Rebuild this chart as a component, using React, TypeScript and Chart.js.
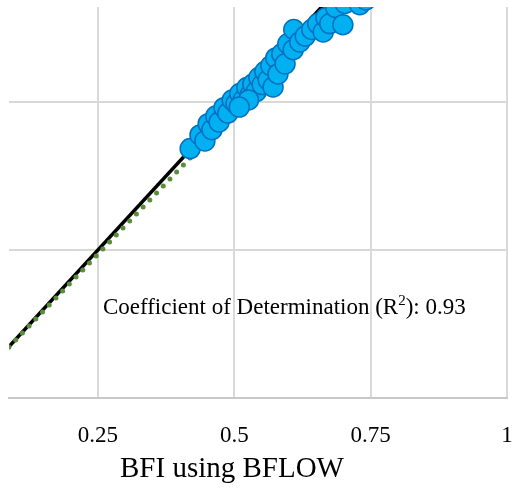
import React, { useEffect, useRef } from "react";
import { Chart, registerables } from "chart.js";

Chart.register(...registerables);

// BFI from BFLOW (x) vs. BFI from the compared method (y)
const bfiBflow = [
  0.419, 0.437, 0.446, 0.452, 0.459, 0.466, 0.472, 0.481, 0.488, 0.496,
  0.503, 0.510, 0.516, 0.523, 0.529, 0.534, 0.540, 0.545, 0.551, 0.556,
  0.562, 0.567, 0.571, 0.576, 0.580, 0.587, 0.593, 0.598, 0.608, 0.609,
  0.620, 0.630, 0.642, 0.653, 0.663, 0.668, 0.675, 0.686, 0.699, 0.703,
  0.730, 0.741, 0.526, 0.509,
];
const bfiOther = [
  0.421, 0.444, 0.434, 0.463, 0.453, 0.476, 0.466, 0.490, 0.481, 0.503,
  0.497, 0.514, 0.503, 0.524, 0.512, 0.530, 0.517, 0.541, 0.529, 0.551,
  0.537, 0.561, 0.525, 0.574, 0.547, 0.581, 0.564, 0.598, 0.588, 0.622,
  0.601, 0.611, 0.622, 0.632, 0.618, 0.642, 0.632, 0.659, 0.630, 0.666,
  0.664, 0.672, 0.503, 0.491,
];

const xTicks = [0.25, 0.5, 0.75, 1];
const yGridValues = [0, 0.25, 0.5];
const xMin = 0.0868;
const xMax = 1.0;
const yMin = 0;
const yMax = 0.66;

const oneToOne = [0, 1];
const regSlope = 0.962;
const regIntercept = 0.0024;
const r2Value = "0.93";
const xTitle = "BFI using BFLOW";

const annotationAt = { x: 0.259, y: 0.142 };

const FONT = "'Liberation Serif', 'Times New Roman', serif";

const textPlugin = {
  id: "textPlugin",
  afterDraw(chart: any) {
    const { ctx, chartArea, scales } = chart;
    ctx.save();
    ctx.fillStyle = "#000";
    const px = scales.x.getPixelForValue(annotationAt.x);
    const py = scales.y.getPixelForValue(annotationAt.y);
    ctx.textBaseline = "alphabetic";
    ctx.textAlign = "left";
    ctx.font = `23px ${FONT}`;
    const p1 = "Coefficient of Determination (R";
    ctx.fillText(p1, px, py);
    let cx = px + ctx.measureText(p1).width;
    ctx.font = `15px ${FONT}`;
    ctx.fillText("2", cx, py - 9);
    cx += ctx.measureText("2").width;
    ctx.font = `23px ${FONT}`;
    ctx.fillText(`): ${r2Value}`, cx, py);
    ctx.font = `29px ${FONT}`;
    ctx.textAlign = "center";
    ctx.fillText(xTitle, chartArea.left + 223, chartArea.bottom + 79);
    ctx.restore();
  },
};

export default function App() {
  const ref = useRef<HTMLCanvasElement>(null);
  useEffect(() => {
    if (!ref.current) return;
    const points = bfiBflow.map((x, i) => ({ x, y: bfiOther[i] }));
    const lineX = [xMin, xMax];
    const chart = new Chart(ref.current, {
      type: "scatter",
      data: {
        datasets: [
          {
            label: "BFI",
            data: points,
            backgroundColor: "#00B0F0",
            borderColor: "#0070C0",
            borderWidth: 1.5,
            pointRadius: 10,
            pointHoverRadius: 10,
            clip: 0,
          } as any,
          {
            label: "Regression",
            data: lineX.map((x) => ({ x, y: regSlope * x + regIntercept })),
            showLine: true,
            borderColor: "#5B8E3A",
            borderWidth: 5,
            borderDash: [0, 9.7],
            borderCapStyle: "round",
            pointRadius: 0,
            clip: 0,
          } as any,
          {
            label: "1:1",
            data: oneToOne.map((v) => ({ x: v, y: v })),
            showLine: true,
            borderColor: "#000000",
            borderWidth: 3.5,
            pointRadius: 0,
            clip: 0,
          } as any,
        ],
      },
      options: {
        animation: false,
        responsive: false,
        layout: { autoPadding: false, padding: { left: 9, top: 7, right: 5, bottom: 0 } },
        plugins: {
          legend: { display: false },
          tooltip: { enabled: false },
        },
        scales: {
          x: {
            type: "linear",
            min: xMin,
            max: xMax,
            afterBuildTicks: (scale: any) => {
              scale.ticks = xTicks.map((v) => ({ value: v }));
            },
            afterFit: (scale: any) => {
              scale.height = 96;
              scale.paddingLeft = 0;
              scale.paddingRight = 0;
            },
            grid: { color: "#D9D9D9", lineWidth: 2, drawTicks: false },
            border: { display: true, color: "#C8C8C8", width: 2 },
            ticks: {
              color: "#000",
              padding: 24,
              maxRotation: 0,
              font: { family: FONT, size: 23 },
              callback: (v: any) => String(v),
            },
          },
          y: {
            type: "linear",
            min: yMin,
            max: yMax,
            afterBuildTicks: (scale: any) => {
              scale.ticks = yGridValues.map((v) => ({ value: v }));
            },
            afterFit: (scale: any) => {
              scale.width = 0;
              scale.paddingTop = 0;
              scale.paddingBottom = 0;
            },
            grid: { color: "#D9D9D9", lineWidth: 2, drawTicks: false },
            border: { display: false },
            ticks: { display: false },
          },
        },
      },
      plugins: [textPlugin],
    });
    return () => chart.destroy();
  }, []);
  return (
    <div style={{ position: "absolute", left: 0, top: 0, width: 512, height: 494, background: "#fff" }}>
      <canvas ref={ref} width={512} height={494} style={{ display: "block" }} />
    </div>
  );
}
